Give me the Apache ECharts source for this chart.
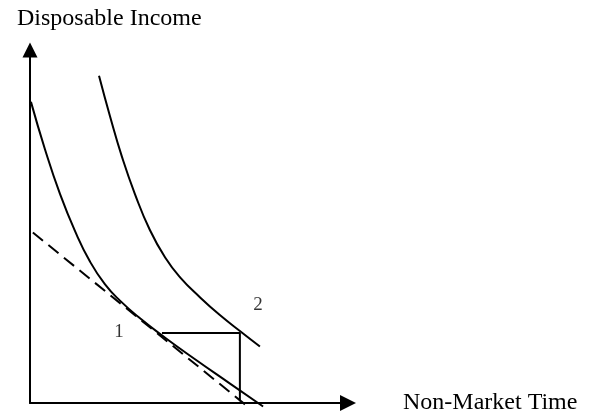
<!DOCTYPE html>
<html>
<head>
<meta charset="utf-8">
<script src="https://cdn.jsdelivr.net/npm/echarts@6/dist/echarts.min.js"></script>
<style>
  html, body { margin: 0; padding: 0; background: #fff; }
  #chart { width: 590px; height: 415px; }
</style>
</head>
<body>
<div id="chart"></div>
<script>
// indifference curve 1 (lower) and 2 (higher)
const ic1Time   = [0.03, 0.47, 0.94, 1.42, 1.89, 2.36, 2.83, 3.46, 4.25, 5.19, 6.29, 7.33];
const ic1Income = [8.53, 7.19, 5.93, 4.86, 4.00, 3.36, 2.90, 2.40, 1.85, 1.24, 0.55, -0.10];
const ic2Time   = [2.17, 2.52, 2.89, 3.30, 3.77, 4.25, 4.72, 5.35, 5.97, 6.67, 7.23];
const ic2Income = [9.27, 8.11, 6.98, 5.92, 4.90, 4.12, 3.56, 2.99, 2.49, 1.99, 1.60];
// dashed budget line
const budgetTime   = [0.09, 6.79];
const budgetIncome = [4.83, -0.06];
// step from point 1 across to curve 2 and down
const stepTime   = [4.15, 6.60, 6.60];
const stepIncome = [1.98, 1.98, 0.05];
// point labels
const pointNames  = ['1', '2'];
const pointTime   = [2.80, 7.17];
const pointIncome = [2.01, 2.77];

const serif = '"Liberation Serif", "Times New Roman", serif';
const zip = (xs, ys) => xs.map((x, i) => [x, ys[i]]);

const lineSeries = (data, extra) => Object.assign({
  type: 'line',
  data: data,
  showSymbol: false,
  clip: false,
  silent: true,
  lineStyle: { color: '#000', width: 2 }
}, extra);

const chart = echarts.init(document.getElementById('chart'), null, { renderer: 'canvas' });

chart.setOption({
  animation: false,
  backgroundColor: '#fff',
  title: {
    text: 'Disposable Income',
    left: 12,
    top: 2,
    textStyle: { fontFamily: serif, fontSize: 24, fontWeight: 'normal', color: '#000' }
  },
  grid: { left: 30, right: 242, top: 50, bottom: 11 },
  xAxis: {
    type: 'value', min: 0, max: 10,
    name: 'Non-Market Time',
    nameLocation: 'end',
    nameGap: 55,
    nameTextStyle: { fontFamily: serif, fontSize: 24, color: '#000', padding: [0, 0, 4, 0] },
    axisLine: { show: true, symbol: ['none', 'triangle'], symbolSize: [16, 16], lineStyle: { color: '#000', width: 2 } },
    axisTick: { show: false }, axisLabel: { show: false }, splitLine: { show: false }
  },
  yAxis: {
    type: 'value', min: 0, max: 10,
    axisLine: { show: true, symbol: ['none', 'triangle'], symbolSize: [15, 15], lineStyle: { color: '#000', width: 2 } },
    axisTick: { show: false }, axisLabel: { show: false }, splitLine: { show: false }
  },
  series: [
    lineSeries(zip(ic1Time, ic1Income), { smooth: 0.5 }),
    lineSeries(zip(ic2Time, ic2Income), { smooth: 0.5 }),
    lineSeries(zip(budgetTime, budgetIncome), { lineStyle: { color: '#000', width: 2, type: [13, 7] } }),
    lineSeries(zip(stepTime, stepIncome)),
    {
      type: 'scatter',
      symbolSize: 0,
      silent: true,
      data: pointNames.map((n, i) => ({ name: n, value: [pointTime[i], pointIncome[i]] })),
      label: {
        show: true, position: 'inside', formatter: '{b}',
        fontFamily: serif, fontSize: 19, color: '#000'
      }
    }
  ]
});
</script>
</body>
</html>
